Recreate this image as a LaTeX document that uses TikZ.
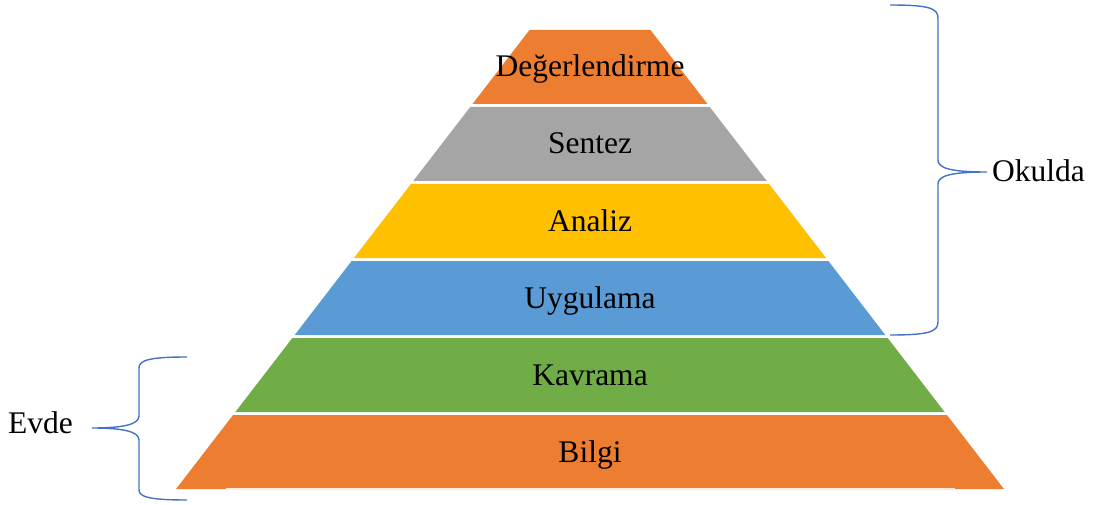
\documentclass[tikz,border=0pt]{standalone}
\usepackage{fontspec}
\setmainfont{Liberation Serif}
\usetikzlibrary{positioning}
\definecolor{layerorange}{HTML}{ED7D31}
\definecolor{layergray}{HTML}{A5A5A5}
\definecolor{layeryellow}{HTML}{FFC000}
\definecolor{layerblue}{HTML}{5B9BD5}
\definecolor{layergreen}{HTML}{70AD47}
\definecolor{braceblue}{HTML}{4472C4}
\begin{document}
\begin{tikzpicture}[x=1pt, y=-1pt,
    every node/.style={font=\fontsize{31.5}{36}\selectfont, text=black},
    layer/.style={inner sep=0pt, anchor=base},
    bracket/.style={draw=braceblue, line width=1.4pt}]
    \useasboundingbox (0,0) rectangle (1100,505);
    \foreach \i/\nm/\col/\txt in {0/deg/layerorange/Değerlendirme, 1/sen/layergray/Sentez,
        2/ana/layeryellow/Analiz, 3/uyg/layerblue/Uygulama,
        4/kav/layergreen/Kavrama, 5/bil/layerorange/Bilgi}{
      \pgfmathsetmacro{\yt}{30+77*\i}
      \pgfmathsetmacro{\yb}{\yt+74}
      \pgfmathsetmacro{\wt}{60.5+0.77*(\yt-30)}
      \pgfmathsetmacro{\wb}{60.5+0.77*(\yb-30)}
      \fill[\col] (590-\wt,\yt) -- (590+\wt,\yt) -- (590+\wb,\yb) -- (590-\wb,\yb) -- cycle;
      \node[layer] (\nm) at (590,\yt+47) {\txt};
    }
    \draw[white!85!layerorange, line width=1.5pt] (226,489) -- (955,489);
    % brace on the right
    \coordinate (oktop) at (890,5);
    \coordinate (oktip) at (987,172);
    \coordinate (okbot) at (890,335);
    \draw[bracket] (oktop) .. controls (928,5) and (938,8) .. (938,18) -- (938,160)
      .. controls (938,168) and (950,172) .. (oktip)
      .. controls (950,172) and (938,176) .. (938,184) -- (938,322)
      .. controls (938,332) and (928,335) .. (okbot);
    \node[right=5pt of oktip, inner sep=0pt, yshift=1pt] (okulda) {Okulda};
    % brace on the left
    \coordinate (evtop) at (187,357);
    \coordinate (evtip) at (92,428);
    \coordinate (evbot) at (187,500);
    \draw[bracket] (evtop) .. controls (150,357) and (139,360) .. (139,368) -- (139,416)
      .. controls (139,424) and (125,428) .. (evtip)
      .. controls (125,428) and (139,432) .. (139,440) -- (139,490)
      .. controls (139,497) and (150,500) .. (evbot);
    \node[left=19pt of evtip, inner sep=0pt, yshift=5pt] (evde) {Evde};
\end{tikzpicture}
\end{document}
